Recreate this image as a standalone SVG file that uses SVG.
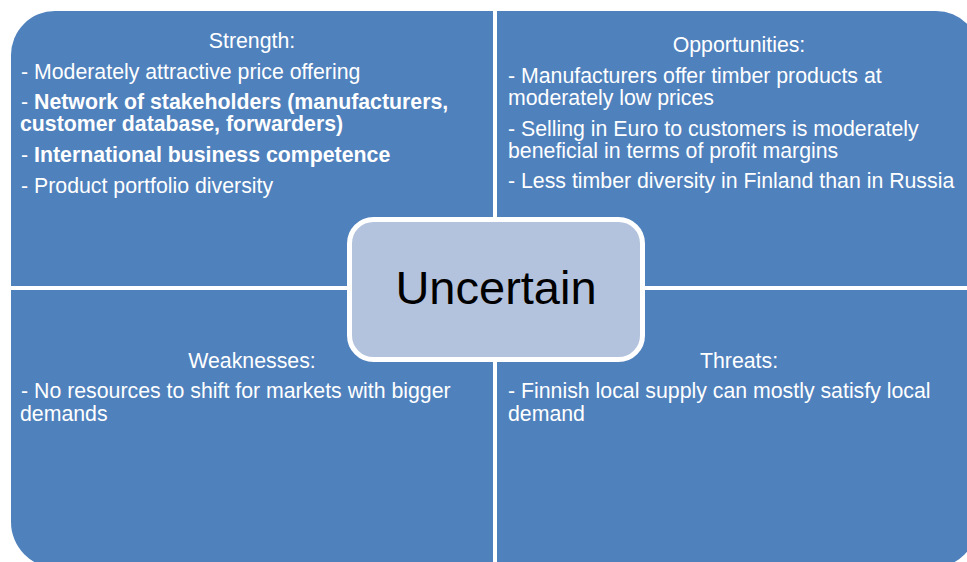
<svg xmlns="http://www.w3.org/2000/svg" width="967" height="562" viewBox="0 0 967 562">
<style>
.panel{fill:#4F81BD}
.t{font-family:"Liberation Sans",Arial,sans-serif;font-size:21.3px;fill:#FFFFFF}
.c{text-anchor:middle}
.b{font-weight:bold}
.center{fill:#B3C2DD;stroke:#FFFFFF;stroke-width:5}
.big{font-family:"Liberation Sans",Arial,sans-serif;font-size:47px;fill:#000000;text-anchor:middle}
</style>
<rect width="967" height="562" fill="#FFFFFF"/>
<g id="strength">
<path class="panel" d="M11,286 V55 A44,44 0 0 1 55,11 H493 V286 Z"/>
<text class="t c" x="252" y="48">Strength:</text>
<text class="t" x="21" y="79">- Moderately attractive price offering</text>
<text class="t" x="21" y="109">- <tspan class="b">Network of stakeholders (manufacturers,</tspan><tspan class="b" x="20" y="131">customer database, forwarders)</tspan></text>
<text class="t" x="21" y="162">- <tspan class="b">International business competence</tspan></text>
<text class="t" x="21" y="193">- Product portfolio diversity</text>
</g>
<g id="opportunities">
<path class="panel" d="M497,11 H936 A44,44 0 0 1 980,55 V286 H497 Z"/>
<text class="t c" x="739" y="52">Opportunities:</text>
<text class="t" x="508" y="83">- Manufacturers offer timber products at<tspan x="508" y="105">moderately low prices</tspan></text>
<text class="t" x="508" y="136">- Selling in Euro to customers is moderately<tspan x="508" y="158">beneficial in terms of profit margins</tspan></text>
<text class="t" x="508" y="188">- Less timber diversity in Finland than in Russia</text>
</g>
<g id="weaknesses">
<path class="panel" d="M11,290 H493 V568 H57 A46,46 0 0 1 11,522 Z"/>
<text class="t c" x="252" y="368">Weaknesses:</text>
<text class="t" x="21" y="398">- No resources to shift for markets with bigger<tspan x="20" y="421">demands</tspan></text>
</g>
<g id="threats">
<path class="panel" d="M497,290 H978 V522 A46,46 0 0 1 932,568 H497 Z"/>
<text class="t c" x="739" y="368">Threats:</text>
<text class="t" x="508" y="398">- Finnish local supply can mostly satisfy local<tspan x="508" y="421">demand</tspan></text>
</g>
<g id="uncertain">
<rect class="center" x="349.5" y="219.5" width="293" height="140" rx="24" ry="24"/>
<text class="big" x="496" y="304">Uncertain</text>
</g>
<g id="connectors"></g>
</svg>
